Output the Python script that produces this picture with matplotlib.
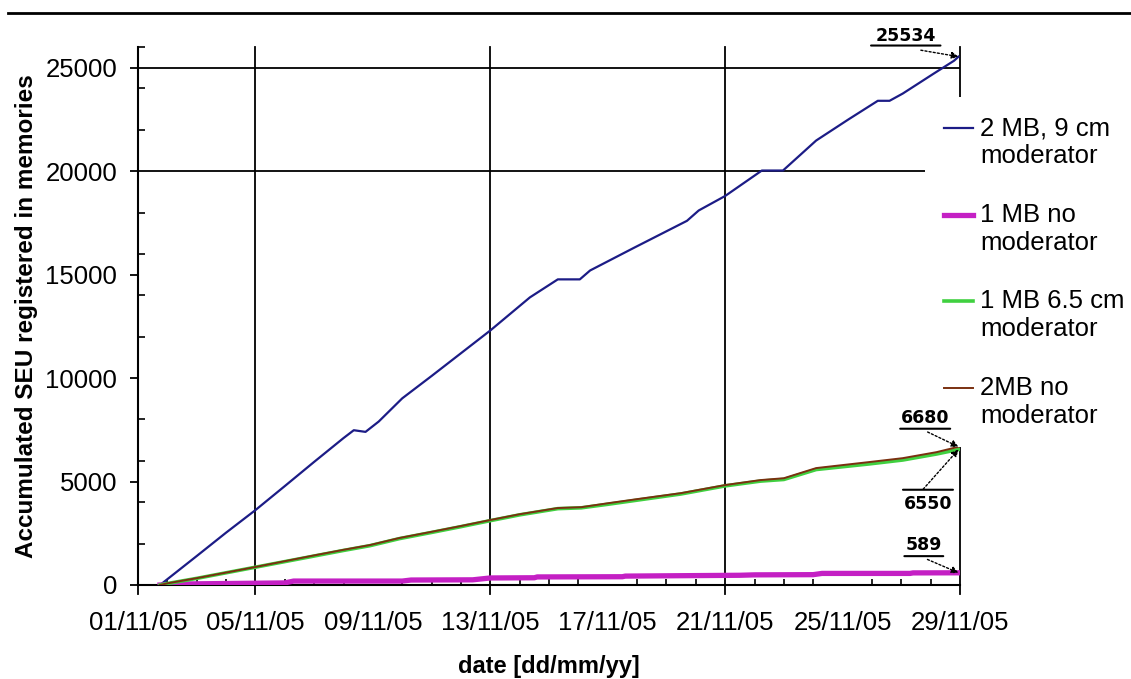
import numpy as np
import pandas as pd
import matplotlib
matplotlib.use("Agg")
import matplotlib.pyplot as plt
import matplotlib.dates as mdates
from matplotlib.lines import Line2D
from matplotlib.text import OffsetFrom
from matplotlib.ticker import MultipleLocator

plt.rcParams['font.family'] = ['Liberation Sans', 'DejaVu Sans']

start = pd.Timestamp("2005-11-01")
end = pd.Timestamp("2005-11-29")

# values: days after 01/11/05, accumulated SEU
blue_days = [0.75, 2.0, 3.0, 4.0, 5.0, 6.0, 7.0, 7.35, 7.75, 8.2, 9.0, 10.0, 11.0, 12.0,
             13.35, 14.3, 15.05, 15.4, 16.9, 18.7, 19.1, 20.0, 21.25, 21.97, 23.1,
             24.2, 25.2, 25.6, 26.05, 27.1, 27.8, 27.95]
blue_vals = [0, 1400, 2530, 3620, 4780, 5950, 7100, 7480, 7400, 7900, 9020, 10100, 11200, 12300,
             13900, 14770, 14770, 15200, 16300, 17600, 18100, 18800, 20030, 20030, 21480,
             22500, 23400, 23400, 23750, 24710, 25340, 25534]

magenta_days = [0.75, 1.5, 5.0, 5.3, 9.0, 9.3, 11.4, 12.0, 13.5, 13.6, 16.5, 16.6,
                20.5, 21.0, 23.0, 23.3, 26.3, 26.4, 27.95]
magenta_vals = [0, 50, 100, 190, 190, 240, 250, 340, 350, 390, 400, 430,
                470, 490, 500, 560, 560, 585, 589]

green_days = [0.75, 1.0, 2, 3, 4, 5, 6, 7, 7.9, 8.9, 10, 11, 12, 13, 14.3, 15.1, 16, 17,
              18.5, 20, 21.2, 22.0, 23.1, 24.9, 26.05, 27.2, 27.95]
green_vals = [0, 70, 320, 590, 860, 1130, 1400, 1670, 1900, 2240, 2540, 2820, 3110, 3390,
              3690, 3730, 3900, 4100, 4400, 4790, 5020, 5100, 5580, 5850, 6040, 6330, 6550]

brown_days = [0.75, 1.0, 2, 3, 4, 5, 6, 7, 7.9, 8.9, 10, 11, 12, 13, 14.3, 15.1, 16, 17,
              18.5, 20, 21.2, 22.0, 23.1, 24.9, 26.05, 27.2, 27.95]
brown_vals = [0, 80, 330, 600, 870, 1150, 1430, 1700, 1930, 2270, 2570, 2850, 3140, 3420,
              3720, 3760, 3950, 4150, 4440, 4830, 5070, 5160, 5650, 5940, 6130, 6420, 6680]

labels = ["2 MB, 9 cm\nmoderator", "1 MB no\nmoderator",
          "1 MB 6.5 cm\nmoderator", "2MB no\nmoderator"]


def to_dates(days):
    return start + pd.to_timedelta(days, unit="D")


fig = plt.figure(figsize=(11.31, 6.79), dpi=100)
ax = fig.add_axes([138 / 1131, 1 - 585 / 679, (960 - 138) / 1131, (585 - 47) / 679])

# gridlines: only at 20000 / 25000 and every 8 days from 05/11
for yv in [20000, 25000]:
    ax.axhline(yv, color="black", lw=1.3, zorder=1)
for d in [start] + list(pd.date_range("2005-11-05", end, freq="8D")):
    ax.axvline(d, ymin=-0.016, ymax=1, color="black", lw=1.3, zorder=1, clip_on=False)

l_blue, = ax.plot(to_dates(blue_days), blue_vals, color="#1c1c86", lw=1.6, zorder=3)
l_mag, = ax.plot(to_dates(magenta_days), magenta_vals, color="#c420c4", lw=3.8, zorder=3)
l_green, = ax.plot(to_dates(green_days), green_vals, color="#40d040", lw=2.6, zorder=3)
l_brown, = ax.plot(to_dates(brown_days), brown_vals, color="#7a3010", lw=1.4, zorder=4)

ax.set_xlim(start, end)
ax.set_ylim(0, 26000)

ax.xaxis.set_major_locator(mdates.DayLocator(bymonthday=[1, 5, 9, 13, 17, 21, 25, 29]))
ax.xaxis.set_major_formatter(mdates.DateFormatter("%d/%m/%y"))
ax.xaxis.set_minor_locator(mdates.DayLocator())
ax.tick_params(axis="x", which="major", length=0, pad=19, labelsize=18.5)
ax.tick_params(axis="x", which="minor", direction="in", length=4, width=1.2)

ax.yaxis.set_major_locator(MultipleLocator(5000))
ax.yaxis.set_minor_locator(MultipleLocator(2000))
ax.tick_params(axis="y", which="major", direction="out", length=6, width=1.3, pad=9,
               labelsize=18.5)
ax.tick_params(axis="y", which="minor", direction="in", length=5, width=1.2)

for s in ["top", "right"]:
    ax.spines[s].set_visible(False)
ax.spines["left"].set_linewidth(1.5)
ax.spines["bottom"].set_linewidth(1.5)

ax.set_xlabel("date [dd/mm/yy]", fontsize=17, fontweight="bold", labelpad=14)
ax.set_ylabel("Accumulated SEU registered in memories", fontsize=17.5, fontweight="bold",
              labelpad=5)

leg = ax.legend([l_blue, l_mag, l_green, l_brown], labels,
                loc="upper left", bbox_to_anchor=(925 / 1131, 1 - 97 / 679),
                bbox_transform=fig.transFigure, fontsize=18.5, frameon=True,
                fancybox=False, framealpha=1, edgecolor="none", facecolor="white",
                handlelength=1.1, handletextpad=0.3, labelspacing=1.35,
                borderaxespad=0, borderpad=0.75)
leg.set_zorder(5)
# put each legend line level with the first text line
for hl in leg.get_lines():
    hl.set_ydata(np.asarray(hl.get_ydata()) + 10.5)

# annotations for the end values
ann_font = dict(family="DejaVu Sans", fontweight="bold", fontsize=12.5)
arrow = dict(arrowstyle="-|>", linestyle=(0, (1.5, 1.5)), color="black", lw=1,
             mutation_scale=10, shrinkA=0, shrinkB=0)
notes = [
    ("25534", blue_days[-1], blue_vals[-1], (-38, 15), (0.75, -0.3), -7, 50),
    ("6680", brown_days[-1], brown_vals[-1], (-24, 21), (0.55, -0.3), -8, 36),
    ("6550", green_days[-1], green_vals[-1], (-22, -39), (0.4, 1.3), 10, 36),
    ("589", magenta_days[-1], magenta_vals[-1], (-25, 20), (0.6, -0.3), -8, 28),
]
for txt, d, v, off, rel, dy, w in notes:
    xy = (mdates.date2num(to_dates([d])[0]), v)
    ax.annotate(txt, xy=xy, xytext=off, textcoords="offset points",
                ha="center", va="center", arrowprops=dict(arrow, relpos=rel),
                annotation_clip=False, zorder=6, **ann_font)
    ref = OffsetFrom(ax.transData, xy, unit="points")
    ax.annotate("", xy=(off[0] - w / 2, off[1] + dy), xycoords=ref,
                xytext=(off[0] + w / 2, off[1] + dy), textcoords=ref,
                arrowprops=dict(arrowstyle="-", lw=1.5, color="black",
                                shrinkA=0, shrinkB=0),
                annotation_clip=False, zorder=6)

# rule across the top of the page
fig.add_artist(Line2D([8 / 1131, 1], [1 - 13 / 679, 1 - 13 / 679], color="black", lw=2))

fig.savefig("out.png", dpi=100, facecolor="white")
